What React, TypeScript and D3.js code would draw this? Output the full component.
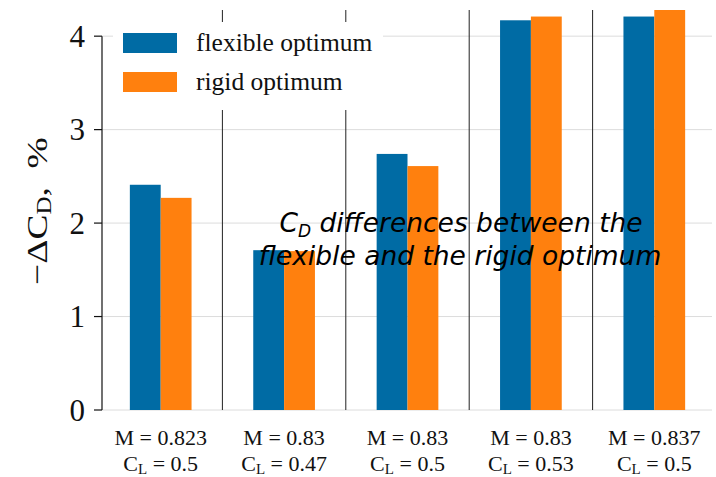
import React from "react";
import * as d3 from "d3";

const machNumbers = ["0.823", "0.83", "0.83", "0.83", "0.837"];
const liftCoeffs = ["0.5", "0.47", "0.5", "0.53", "0.5"];
const flexibleOpt = [2.41, 1.71, 2.74, 4.17, 4.21];
const rigidOpt = [2.27, 1.7, 2.61, 4.21, 4.28];
const yTicks = [0, 1, 2, 3, 4];
const seriesNames = ["flexible optimum", "rigid optimum"];
const colors = ["#006BA4", "#FF800E"];

const W = 716;
const H = 477;
const serif = "'Liberation Serif', 'DejaVu Serif', serif";

function App() {
  const idx = d3.range(machNumbers.length).map(String);

  const x = d3.scaleBand().domain(idx).range([99, 716]).padding(0);
  const xSeries = d3
    .scaleBand()
    .domain(["0", "1"])
    .range([x.bandwidth() * 0.25, x.bandwidth() * 0.75]);
  const y = d3.scaleLinear().domain([0, 4.28]).range([410, 10]);

  const spineX = 102;
  const gridEnd = 712;

  return (
    <svg
      width={W}
      height={H}
      style={{ position: "absolute", left: 0, top: 0, background: "#fff" }}
    >
      {/* grid */}
      {yTicks.map((t) => (
        <line
          key={"g" + t}
          x1={spineX}
          x2={gridEnd}
          y1={y(t)}
          y2={y(t)}
          stroke="#dcdcdc"
          strokeWidth={1}
        />
      ))}

      {/* group separators */}
      {idx.slice(1).map((d) => (
        <line
          key={"s" + d}
          x1={x(d)}
          x2={x(d)}
          y1={y(4.28)}
          y2={y(0)}
          stroke="#222"
          strokeWidth={1}
        />
      ))}

      {/* bars */}
      {idx.map((d, i) =>
        [flexibleOpt[i], rigidOpt[i]].map((v, j) => (
          <rect
            key={d + "-" + j}
            x={(x(d) as number) + (xSeries(String(j)) as number)}
            y={y(v)}
            width={xSeries.bandwidth()}
            height={y(0) - y(v)}
            fill={colors[j]}
          />
        ))
      )}

      {/* left spine + ticks */}
      <line x1={spineX} x2={spineX} y1={y(4)} y2={y(0)} stroke="#111" strokeWidth={1.2} />
      {yTicks.map((t) => (
        <g key={"t" + t}>
          <line x1={94} x2={spineX} y1={y(t)} y2={y(t)} stroke="#111" strokeWidth={1.2} />
          <text
            x={85}
            y={y(t)}
            dy="0.35em"
            textAnchor="end"
            fontFamily={serif}
            fontSize={31}
            fill="#111"
          >
            {t}
          </text>
        </g>
      ))}

      {/* x tick labels */}
      {idx.map((d, i) => {
        const cx = (x(d) as number) + x.bandwidth() / 2;
        return (
          <g key={"x" + d} fontFamily={serif} fontSize={22} fill="#111" textAnchor="middle">
            <text x={cx} y={445}>
              {"M = " + machNumbers[i]}
            </text>
            <text x={cx} y={471}>
              C
              <tspan fontSize={15} dy={3}>
                L
              </tspan>
              <tspan dy={-3}>{" = " + liftCoeffs[i]}</tspan>
            </text>
          </g>
        );
      })}

      {/* y label */}
      <text
        transform="translate(47,211) rotate(-90) scale(1.25,1)"
        textAnchor="middle"
        fontFamily={serif}
        fontSize={30}
        fill="#111"
      >
        {"−ΔC"}
        <tspan fontSize={20} dy={4}>
          D
        </tspan>
        <tspan dy={-4}>{",\u00a0\u00a0%"}</tspan>
      </text>

      {/* legend */}
      <rect x={113} y={22} width={270} height={88} fill="#fff" />
      {seriesNames.map((s, j) => (
        <g key={"l" + j}>
          <rect x={123} y={33 + j * 39} width={54} height={20} fill={colors[j]} />
          <text
            x={196}
            y={42 + j * 39}
            dy="0.35em"
            fontFamily={serif}
            fontSize={25.5}
            fill="#111"
          >
            {s}
          </text>
        </g>
      ))}

      {/* overlay title */}
      <g
        fontFamily="'DejaVu Sans', sans-serif"
        fontStyle="italic"
        fontSize={26.5}
        fill="#000"
        textAnchor="middle"
      >
        <text x={461} y={232}>
          C
          <tspan fontSize={17} dy={5}>
            D
          </tspan>
          <tspan dy={-5}> differences between the</tspan>
        </text>
        <text x={460} y={265}>
          flexible and the rigid optimum
        </text>
      </g>
    </svg>
  );
}

export default App;
